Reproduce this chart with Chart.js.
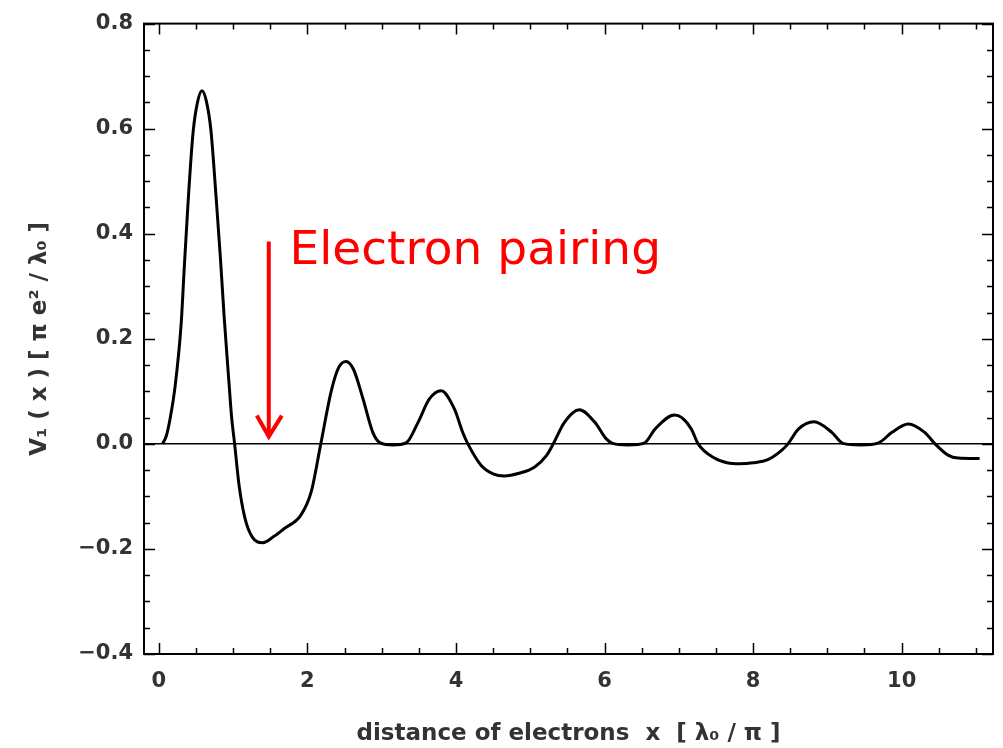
<!DOCTYPE html>
<html>
<head>
<meta charset="utf-8">
<script src="https://cdn.jsdelivr.net/npm/chart.js@4.4.1/dist/chart.umd.min.js"></script>
<style>
  html, body { margin: 0; padding: 0; background: #fff; }
</style>
</head>
<body>
<canvas id="potentialChart" width="1003" height="748"></canvas>
<script>
// Curve: distance x [lambda0/pi] -> V1(x) [pi e^2/lambda0]
const xValues = [0.05, 0.10, 0.15, 0.22, 0.30, 0.34, 0.39, 0.46, 0.52, 0.58, 0.64, 0.70, 0.77, 0.83, 0.88,
  0.95, 0.98, 1.02, 1.08, 1.16, 1.26, 1.40, 1.55, 1.69, 1.91, 2.05, 2.18, 2.32, 2.42, 2.52, 2.62, 2.75,
  2.88, 2.98, 3.15, 3.33, 3.49, 3.64, 3.80, 3.98, 4.09, 4.16, 4.34, 4.50, 4.65, 4.85, 5.06, 5.22, 5.31,
  5.46, 5.66, 5.87, 6.02, 6.11, 6.32, 6.54, 6.68, 6.94, 7.04, 7.17, 7.26, 7.48, 7.65, 7.82, 8.00, 8.20,
  8.38, 8.47, 8.61, 8.82, 9.06, 9.21, 9.45, 9.69, 9.87, 10.09, 10.31, 10.45, 10.63, 10.76, 11.05];
const vValues = [0, 0.015, 0.047, 0.111, 0.228, 0.33, 0.452, 0.592, 0.65, 0.672, 0.652, 0.598, 0.471, 0.351, 0.24,
  0.105, 0.05, 0.0, -0.079, -0.142, -0.178, -0.188, -0.176, -0.161, -0.136, -0.092, 0.0, 0.10, 0.145, 0.157, 0.142, 0.085,
  0.022, 0.002, -0.002, 0.002, 0.041, 0.085, 0.101, 0.066, 0.022, 0.0, -0.041, -0.057, -0.061, -0.056, -0.044, -0.022, 0.0,
  0.041, 0.065, 0.041, 0.010, 0.001, -0.002, 0.002, 0.028, 0.055, 0.050, 0.028, 0.0, -0.027, -0.036, -0.038, -0.036, -0.030,
  -0.013, 0.0, 0.028, 0.042, 0.022, 0.001, -0.002, 0.002, 0.022, 0.038, 0.022, 0.0, -0.022, -0.027, -0.028];

const xTicks = [0, 2, 4, 6, 8, 10];
const yTicks = [-0.4, -0.2, 0.0, 0.2, 0.4, 0.6, 0.8];
const xMinorStep = 0.5;
const yMinorStep = 0.05;

const xTitle = 'distance of electrons  x  [ \u03bb\u2080 / \u03c0 ]';
const yTitle = 'V\u2081 ( x ) [ \u03c0 e\u00b2 / \u03bb\u2080 ]';
const noteText = 'Electron pairing';

// frame with inward ticks on all four sides (Mathematica style)
const frameTicks = {
  id: 'frameTicks',
  afterDatasetsDraw(chart) {
    const { ctx, chartArea: a, scales: { x, y } } = chart;
    ctx.save();
    ctx.strokeStyle = '#000';
    ctx.lineWidth = 2;
    ctx.strokeRect(a.left, a.top, a.right - a.left, a.bottom - a.top);
    ctx.lineWidth = 1.5;
    ctx.beginPath();
    for (let v = 0; v <= x.max + 1e-9; v += xMinorStep) {
      const px = Math.round(x.getPixelForValue(v)) + 0.5;
      const len = Math.abs(v / 2 - Math.round(v / 2)) < 1e-6 ? 11 : 6;
      ctx.moveTo(px, a.bottom); ctx.lineTo(px, a.bottom - len);
      ctx.moveTo(px, a.top); ctx.lineTo(px, a.top + len);
    }
    for (let v = y.min; v <= y.max + 1e-9; v += yMinorStep) {
      const py = Math.round(y.getPixelForValue(v)) + 0.5;
      const len = Math.abs(v / 0.2 - Math.round(v / 0.2)) < 1e-6 ? 11 : 6;
      ctx.moveTo(a.left, py); ctx.lineTo(a.left + len, py);
      ctx.moveTo(a.right, py); ctx.lineTo(a.right - len, py);
    }
    ctx.stroke();
    ctx.restore();
  }
};

// red arrow + label
const pairingNote = {
  id: 'pairingNote',
  afterDraw(chart) {
    const { ctx, scales: { x, y } } = chart;
    const ax = x.getPixelForValue(1.48);
    const top = y.getPixelForValue(0.385);
    const tip = y.getPixelForValue(0.01);
    ctx.save();
    ctx.strokeStyle = '#ff0000';
    ctx.lineWidth = 4;
    ctx.beginPath();
    ctx.moveTo(ax, top);
    ctx.lineTo(ax, tip - 2);
    ctx.stroke();
    ctx.beginPath();
    ctx.moveTo(ax - 12, tip - 23);
    ctx.lineTo(ax, tip - 2);
    ctx.lineTo(ax + 13, tip - 23);
    ctx.stroke();
    ctx.fillStyle = '#ff0000';
    ctx.font = '47px "DejaVu Sans"';
    ctx.textBaseline = 'alphabetic';
    ctx.fillText(noteText, x.getPixelForValue(1.76), y.getPixelForValue(0.343));
    ctx.restore();
  }
};

const labelFont = { family: 'DejaVu Sans', weight: 'bold', size: 21 };

new Chart(document.getElementById('potentialChart'), {
  type: 'line',
  data: {
    datasets: [{
      data: xValues.map((v, i) => ({ x: v, y: vValues[i] })),
      borderColor: '#000',
      borderWidth: 3,
      pointRadius: 0,
      fill: false,
      cubicInterpolationMode: 'monotone'
    }]
  },
  options: {
    responsive: false,
    animation: false,
    devicePixelRatio: 1,
    layout: { padding: { top: 20, right: 10, left: 0, bottom: 0 } },
    plugins: { legend: { display: false }, tooltip: { enabled: false } },
    scales: {
      x: {
        type: 'linear',
        min: -0.2,
        max: 11.23,
        afterBuildTicks: s => { s.ticks = xTicks.map(v => ({ value: v })); },
        afterFit: s => { s.height = 94; },
        border: { display: false },
        grid: { display: false, drawTicks: false },
        ticks: { color: '#333', font: labelFont, padding: 15, maxRotation: 0 },
        title: {
          display: true, text: xTitle, color: '#333',
          font: { family: 'DejaVu Sans', weight: 'bold', size: 23 },
          padding: { top: 2, bottom: 0 }
        }
      },
      y: {
        min: -0.4,
        max: 0.8,
        afterBuildTicks: s => { s.ticks = yTicks.map(v => ({ value: v })); },
        afterFit: s => { s.width = 144; },
        border: { display: false },
        grid: {
          drawTicks: false,
          color: c => (c.tick && Math.abs(c.tick.value) < 1e-9 ? '#000' : 'rgba(0,0,0,0)'),
          lineWidth: 1.5
        },
        ticks: {
          color: '#333', font: labelFont, padding: 11,
          callback: v => (v < 0 ? '\u2212' : '') + Math.abs(v).toFixed(1)
        },
        title: {
          display: true, text: yTitle, color: '#333',
          font: { family: 'DejaVu Sans', weight: 'bold', size: 23 },
          padding: { top: 26, bottom: 0 }
        }
      }
    }
  },
  plugins: [frameTicks, pairingNote]
});
</script>
</body>
</html>
